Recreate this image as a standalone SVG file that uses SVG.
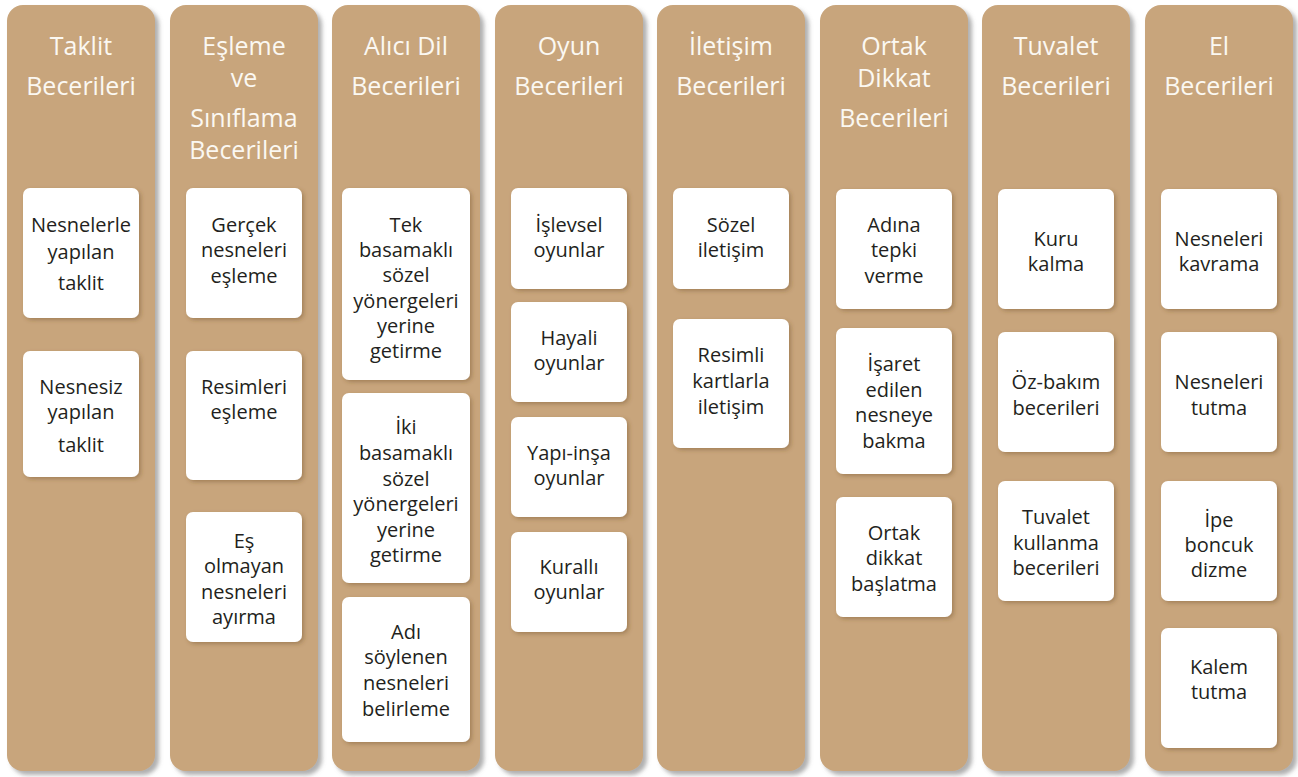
<svg xmlns="http://www.w3.org/2000/svg" width="1298" height="777" viewBox="0 0 1298 777">
<defs>
<filter id="colShadow" x="-10%" y="-5%" width="125%" height="112%">
<feDropShadow dx="4" dy="4" stdDeviation="2.2" flood-color="#6e6e6e" flood-opacity="0.55"/>
</filter>
<filter id="boxShadow" x="-10%" y="-10%" width="125%" height="125%">
<feDropShadow dx="2" dy="2" stdDeviation="2" flood-color="#6b4a20" flood-opacity="0.4"/>
</filter>
</defs>
<style>
.col{fill:#c8a57b;filter:url(#colShadow);}
.box{fill:#ffffff;filter:url(#boxShadow);}
.hd{font-family:"Open Sans","Noto Sans","Liberation Sans",sans-serif;font-size:25px;fill:#fbf8f2;text-anchor:middle;}
.tx{font-family:"Open Sans","Noto Sans","Liberation Sans",sans-serif;font-size:20px;fill:#231f20;text-anchor:middle;}
</style>
<rect width="1298" height="777" fill="#ffffff"/>
<g id="connectors"/>

<g id="col-taklit">
<rect class="col" x="7" y="5" width="148" height="766" rx="16"/>
<text class="hd" x="81" y="55">Taklit</text>
<text class="hd" x="81" y="95">Becerileri</text>
<g id="n-nesnelerle">
<rect class="box" x="23" y="188" width="116" height="130" rx="7"/>
<text class="tx" x="81" y="232">Nesnelerle</text>
<text class="tx" x="81" y="259">yapılan</text>
<text class="tx" x="81" y="290">taklit</text>
</g>
<g id="n-nesnesiz">
<rect class="box" x="23" y="351" width="116" height="126" rx="7"/>
<text class="tx" x="81" y="394">Nesnesiz</text>
<text class="tx" x="81" y="419">yapılan</text>
<text class="tx" x="81" y="452">taklit</text>
</g>
</g>

<g id="col-esleme">
<rect class="col" x="170" y="5" width="148" height="766" rx="16"/>
<text class="hd" x="244" y="55">Eşleme</text>
<text class="hd" x="244" y="87">ve</text>
<text class="hd" x="244" y="127">Sınıflama</text>
<text class="hd" x="244" y="159">Becerileri</text>
<g id="n-gercek">
<rect class="box" x="186" y="188" width="116" height="130" rx="7"/>
<text class="tx" x="244" y="232">Gerçek</text>
<text class="tx" x="244" y="257">nesneleri</text>
<text class="tx" x="244" y="283">eşleme</text>
</g>
<g id="n-resimleri">
<rect class="box" x="186" y="351" width="116" height="129" rx="7"/>
<text class="tx" x="244" y="394">Resimleri</text>
<text class="tx" x="244" y="419">eşleme</text>
</g>
<g id="n-es-olmayan">
<rect class="box" x="186" y="512" width="116" height="130" rx="7"/>
<text class="tx" x="244" y="548">Eş</text>
<text class="tx" x="244" y="573">olmayan</text>
<text class="tx" x="244" y="599">nesneleri</text>
<text class="tx" x="244" y="624">ayırma</text>
</g>
</g>

<g id="col-alici">
<rect class="col" x="332" y="5" width="148" height="766" rx="16"/>
<text class="hd" x="406" y="55">Alıcı Dil</text>
<text class="hd" x="406" y="95">Becerileri</text>
<g id="n-tek">
<rect class="box" x="342" y="188" width="128" height="192" rx="7"/>
<text class="tx" x="406" y="232">Tek</text>
<text class="tx" x="406" y="257">basamaklı</text>
<text class="tx" x="406" y="282">sözel</text>
<text class="tx" x="406" y="308">yönergeleri</text>
<text class="tx" x="406" y="333">yerine</text>
<text class="tx" x="406" y="358">getirme</text>
</g>
<g id="n-iki">
<rect class="box" x="342" y="393" width="128" height="190" rx="7"/>
<text class="tx" x="406" y="434">İki</text>
<text class="tx" x="406" y="460">basamaklı</text>
<text class="tx" x="406" y="486">sözel</text>
<text class="tx" x="406" y="511">yönergeleri</text>
<text class="tx" x="406" y="537">yerine</text>
<text class="tx" x="406" y="562">getirme</text>
</g>
<g id="n-adi">
<rect class="box" x="342" y="597" width="128" height="145" rx="7"/>
<text class="tx" x="406" y="639">Adı</text>
<text class="tx" x="406" y="664">söylenen</text>
<text class="tx" x="406" y="690">nesneleri</text>
<text class="tx" x="406" y="716">belirleme</text>
</g>
</g>

<g id="col-oyun">
<rect class="col" x="495" y="5" width="148" height="766" rx="16"/>
<text class="hd" x="569" y="55">Oyun</text>
<text class="hd" x="569" y="95">Becerileri</text>
<g id="n-islevsel">
<rect class="box" x="511" y="188" width="116" height="101" rx="7"/>
<text class="tx" x="569" y="232">İşlevsel</text>
<text class="tx" x="569" y="257">oyunlar</text>
</g>
<g id="n-hayali">
<rect class="box" x="511" y="302" width="116" height="100" rx="7"/>
<text class="tx" x="569" y="345">Hayali</text>
<text class="tx" x="569" y="370">oyunlar</text>
</g>
<g id="n-yapi">
<rect class="box" x="511" y="417" width="116" height="100" rx="7"/>
<text class="tx" x="569" y="460">Yapı-inşa</text>
<text class="tx" x="569" y="485">oyunlar</text>
</g>
<g id="n-kuralli">
<rect class="box" x="511" y="532" width="116" height="100" rx="7"/>
<text class="tx" x="569" y="574">Kurallı</text>
<text class="tx" x="569" y="599">oyunlar</text>
</g>
</g>

<g id="col-iletisim">
<rect class="col" x="657" y="5" width="148" height="766" rx="16"/>
<text class="hd" x="731" y="55">İletişim</text>
<text class="hd" x="731" y="95">Becerileri</text>
<g id="n-sozel">
<rect class="box" x="673" y="188" width="116" height="101" rx="7"/>
<text class="tx" x="731" y="232">Sözel</text>
<text class="tx" x="731" y="257">iletişim</text>
</g>
<g id="n-resimli">
<rect class="box" x="673" y="319" width="116" height="129" rx="7"/>
<text class="tx" x="731" y="362">Resimli</text>
<text class="tx" x="731" y="388">kartlarla</text>
<text class="tx" x="731" y="414">iletişim</text>
</g>
</g>

<g id="col-ortak">
<rect class="col" x="820" y="5" width="148" height="766" rx="16"/>
<text class="hd" x="894" y="55">Ortak</text>
<text class="hd" x="894" y="87">Dikkat</text>
<text class="hd" x="894" y="127">Becerileri</text>
<g id="n-adina">
<rect class="box" x="836" y="189" width="116" height="120" rx="7"/>
<text class="tx" x="894" y="232">Adına</text>
<text class="tx" x="894" y="257">tepki</text>
<text class="tx" x="894" y="283">verme</text>
</g>
<g id="n-isaret">
<rect class="box" x="836" y="328" width="116" height="146" rx="7"/>
<text class="tx" x="894" y="371">İşaret</text>
<text class="tx" x="894" y="397">edilen</text>
<text class="tx" x="894" y="422">nesneye</text>
<text class="tx" x="894" y="448">bakma</text>
</g>
<g id="n-ortak-dikkat">
<rect class="box" x="836" y="497" width="116" height="120" rx="7"/>
<text class="tx" x="894" y="540">Ortak</text>
<text class="tx" x="894" y="565">dikkat</text>
<text class="tx" x="894" y="591">başlatma</text>
</g>
</g>

<g id="col-tuvalet">
<rect class="col" x="982" y="5" width="148" height="766" rx="16"/>
<text class="hd" x="1056" y="55">Tuvalet</text>
<text class="hd" x="1056" y="95">Becerileri</text>
<g id="n-kuru">
<rect class="box" x="998" y="189" width="116" height="120" rx="7"/>
<text class="tx" x="1056" y="246">Kuru</text>
<text class="tx" x="1056" y="271">kalma</text>
</g>
<g id="n-ozbakim">
<rect class="box" x="998" y="332" width="116" height="120" rx="7"/>
<text class="tx" x="1056" y="389">Öz-bakım</text>
<text class="tx" x="1056" y="415">becerileri</text>
</g>
<g id="n-tuvalet-kullanma">
<rect class="box" x="998" y="481" width="116" height="120" rx="7"/>
<text class="tx" x="1056" y="524">Tuvalet</text>
<text class="tx" x="1056" y="550">kullanma</text>
<text class="tx" x="1056" y="575">becerileri</text>
</g>
</g>

<g id="col-el">
<rect class="col" x="1145" y="5" width="148" height="766" rx="16"/>
<text class="hd" x="1219" y="55">El</text>
<text class="hd" x="1219" y="95">Becerileri</text>
<g id="n-kavrama">
<rect class="box" x="1161" y="189" width="116" height="120" rx="7"/>
<text class="tx" x="1219" y="246">Nesneleri</text>
<text class="tx" x="1219" y="271">kavrama</text>
</g>
<g id="n-tutma">
<rect class="box" x="1161" y="332" width="116" height="120" rx="7"/>
<text class="tx" x="1219" y="389">Nesneleri</text>
<text class="tx" x="1219" y="415">tutma</text>
</g>
<g id="n-ipe">
<rect class="box" x="1161" y="481" width="116" height="120" rx="7"/>
<text class="tx" x="1219" y="527">İpe</text>
<text class="tx" x="1219" y="552">boncuk</text>
<text class="tx" x="1219" y="577">dizme</text>
</g>
<g id="n-kalem">
<rect class="box" x="1161" y="628" width="116" height="120" rx="7"/>
<text class="tx" x="1219" y="674">Kalem</text>
<text class="tx" x="1219" y="699">tutma</text>
</g>
</g>
</svg>
